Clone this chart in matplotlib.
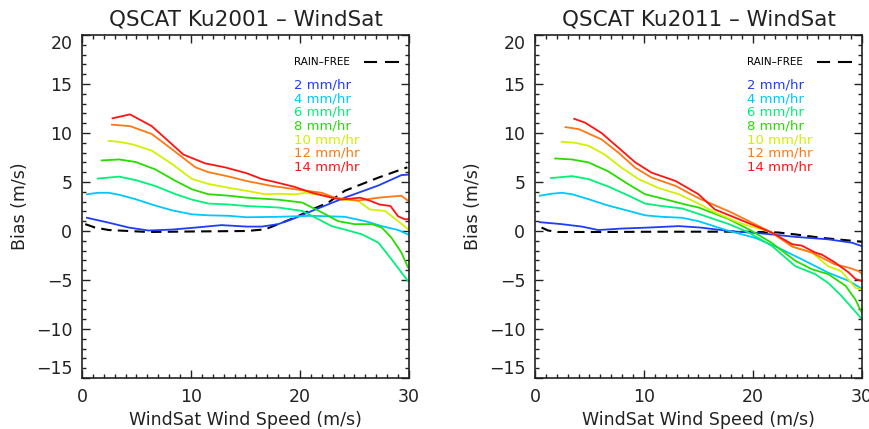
import matplotlib
matplotlib.use("Agg")
import matplotlib.pyplot as plt
from matplotlib.ticker import MultipleLocator

# ---------------- data ----------------
titles = ["QSCAT Ku2001 \u2013 WindSat", "QSCAT Ku2011 \u2013 WindSat"]
rain_labels = ["2 mm/hr", "4 mm/hr", "6 mm/hr", "8 mm/hr", "10 mm/hr", "12 mm/hr", "14 mm/hr"]
rain_colors = ["#1e3cff", "#00c8ff", "#00f078", "#28dc00", "#d2f000", "#ff7814", "#ff1414"]

# Left panel (Ku2001)
L_free_x = [0.3, 1.2, 2.45, 6.1, 10.0, 15.1, 16.8, 18.0, 19.5, 21.1, 22.6, 24.1, 27.2, 29.85]
L_free_y = [0.7, 0.35, 0.1, -0.1, -0.05, 0.0, 0.17, 0.7, 1.35, 2.2, 2.9, 4.1, 5.45, 6.5]

L_x = [
    [0.45, 2.45, 4.3, 6.1, 8.3, 10.4, 12.8, 15.1, 16.5, 18.0, 19.5, 21.1, 24.1, 27.2, 29.3, 29.9],
    [0.45, 1.5, 2.45, 3.4, 4.9, 6.7, 8.3, 10.1, 11.6, 13.5, 15.1, 18.0, 21.1, 24.1, 26.0, 27.5, 29.0, 29.9],
    [1.45, 3.4, 4.9, 6.7, 8.6, 10.1, 11.6, 13.5, 15.1, 18.0, 20.2, 21.7, 22.9, 24.1, 25.7, 27.2, 28.4, 29.9],
    [1.8, 3.4, 4.9, 6.7, 8.6, 10.1, 11.6, 13.5, 15.1, 18.0, 20.2, 22.0, 23.5, 25.0, 26.6, 27.5, 28.4, 29.3, 29.9],
    [2.45, 3.4, 4.6, 6.4, 8.3, 10.1, 11.6, 13.5, 15.1, 16.8, 18.0, 19.6, 20.5, 22.0, 23.8, 25.3, 26.4, 27.8, 29.0, 29.9],
    [2.75, 4.4, 6.4, 8.3, 10.4, 11.6, 13.5, 15.1, 17.4, 19.6, 22.0, 23.2, 25.3, 27.2, 29.3, 29.9],
    [2.8, 4.4, 6.4, 9.3, 11.3, 13.1, 15.1, 16.5, 17.7, 19.5, 21.1, 22.9, 23.8, 25.5, 26.4, 27.3, 28.3, 29.0, 29.6, 29.95],
]
L_y = [
    [1.35, 0.85, 0.35, 0.05, 0.15, 0.35, 0.6, 0.45, 0.45, 0.7, 1.3, 2.05, 3.4, 4.65, 5.7, 5.75],
    [3.75, 3.9, 3.9, 3.7, 3.25, 2.6, 2.1, 1.7, 1.6, 1.55, 1.4, 1.45, 1.55, 1.45, 1.0, 0.5, 0.1, -0.35],
    [5.35, 5.55, 5.2, 4.6, 3.75, 3.2, 2.8, 2.7, 2.55, 2.4, 2.05, 1.2, 0.5, 0.15, -0.35, -1.2, -2.9, -5.1],
    [7.2, 7.3, 7.05, 6.3, 5.1, 4.25, 3.75, 3.6, 3.4, 3.2, 2.9, 1.9, 1.0, 0.7, 0.7, 0.35, -0.7, -2.2, -3.7],
    [9.2, 9.1, 8.85, 8.2, 6.8, 5.3, 4.8, 4.4, 4.1, 3.75, 3.8, 3.75, 3.9, 3.65, 3.2, 3.1, 2.2, 2.05, 1.0, 0.2],
    [10.85, 10.7, 9.9, 8.3, 6.5, 6.0, 5.55, 5.1, 4.6, 4.25, 3.9, 3.4, 3.1, 3.4, 3.6, 3.1],
    [11.5, 11.9, 10.7, 7.8, 6.9, 6.5, 5.9, 5.3, 5.0, 4.5, 3.9, 3.4, 3.2, 3.4, 3.1, 2.7, 2.55, 1.5, 1.2, 1.2],
]

# Right panel (Ku2011)
R_free_x = [0.6, 1.2, 2.1, 6.0, 10.0, 14.7, 19.2, 22.3, 23.9, 26.3, 29.1, 30.0]
R_free_y = [0.35, 0.05, -0.1, -0.1, -0.08, -0.07, -0.07, -0.15, -0.35, -0.7, -1.0, -1.1]

R_x = [
    [0.45, 2.45, 4.3, 5.8, 7.95, 10.4, 13.2, 15.2, 17.8, 20.8, 23.9, 26.9, 29.1, 30.0],
    [0.45, 1.5, 2.45, 3.4, 4.9, 6.7, 8.6, 10.1, 11.6, 13.5, 15.0, 17.8, 20.2, 22.3, 24.5, 26.9, 28.8, 30.0],
    [1.47, 3.4, 4.9, 6.7, 8.6, 10.1, 11.6, 13.5, 15.0, 17.8, 19.6, 21.7, 23.9, 25.7, 26.9, 28.1, 30.0],
    [1.85, 3.4, 4.9, 6.7, 8.6, 10.1, 11.9, 13.8, 15.0, 17.8, 19.9, 21.7, 23.9, 25.4, 26.9, 28.5, 29.4, 30.0],
    [2.45, 3.7, 4.9, 6.4, 7.95, 9.5, 11.3, 13.2, 15.0, 16.5, 18.7, 21.7, 23.9, 25.4, 26.9, 28.1, 29.4, 30.0],
    [2.8, 4.0, 6.1, 7.65, 9.2, 10.7, 12.9, 15.0, 18.0, 21.7, 23.6, 25.4, 27.5, 28.8, 29.7, 30.0],
    [3.6, 4.6, 6.1, 7.65, 9.2, 10.7, 12.9, 15.0, 16.5, 21.7, 23.6, 24.5, 25.7, 26.3, 27.5, 28.8, 29.4, 30.0],
]
R_y = [
    [0.9, 0.7, 0.45, 0.1, 0.25, 0.35, 0.5, 0.35, 0.0, -0.25, -0.6, -0.85, -1.2, -1.55],
    [3.6, 3.8, 3.9, 3.75, 3.25, 2.6, 2.05, 1.6, 1.45, 1.35, 1.0, 0.0, -0.7, -1.7, -2.9, -4.25, -5.1, -5.9],
    [5.4, 5.6, 5.3, 4.55, 3.6, 2.8, 2.55, 2.3, 1.75, 0.7, -0.15, -1.5, -3.6, -4.4, -5.3, -6.6, -9.0],
    [7.4, 7.3, 7.0, 6.1, 4.75, 3.75, 3.25, 2.7, 2.4, 1.2, 0.0, -1.2, -3.05, -3.9, -4.4, -5.6, -7.0, -8.4],
    [9.1, 9.0, 8.7, 7.8, 6.45, 5.3, 4.4, 3.75, 2.8, 1.9, 0.85, -0.15, -1.7, -2.2, -3.6, -4.1, -5.8, -6.0],
    [10.6, 10.4, 9.35, 8.0, 6.45, 5.45, 4.6, 3.35, 1.9, -0.15, -1.6, -2.2, -3.4, -3.75, -4.1, -4.4],
    [11.45, 11.05, 10.0, 8.5, 7.0, 5.95, 5.1, 3.75, 2.2, -0.15, -1.35, -1.5, -2.2, -2.4, -3.2, -4.25, -4.9, -5.1],
]

x_ticks = [0, 10, 20, 30]
y_ticks = [-15, -10, -5, 0, 5, 10, 15, 20]

# ---------------- plot ----------------
plt.rcParams['font.family'] = ['DejaVu Sans']
fig = plt.figure(figsize=(8.7, 4.29), dpi=100)
positions = [[82/870, 51/429, 327/870, 343/429], [535/870, 51/429, 327/870, 343/429]]
panels = [(L_free_x, L_free_y, L_x, L_y), (R_free_x, R_free_y, R_x, R_y)]

for i, (pos, (fx, fy, xs, ys)) in enumerate(zip(positions, panels)):
    ax = fig.add_axes(pos)
    ax.plot(fx, fy, color='black', lw=1.5, linestyle=(0, (5, 3)))
    for x, y, c in zip(xs, ys, rain_colors):
        ax.plot(x, y, color=c, lw=1.3)
    ax.set_xlim(0, 30)
    ax.set_ylim(-15, 20)
    ax.set_xticks(x_ticks)
    ax.set_yticks(y_ticks)
    ax.xaxis.set_minor_locator(MultipleLocator(1))
    ax.yaxis.set_minor_locator(MultipleLocator(1))
    ax.tick_params(which='both', direction='in', top=True, right=True, width=1.0, color='#222222')
    ax.tick_params(which='major', length=6, labelsize=12.5, pad=7, labelcolor='#222222')
    ax.tick_params(which='minor', length=3)
    for sp in ax.spines.values():
        sp.set_linewidth(1.2)
        sp.set_color('#222222')
    ylabels = ax.get_yticklabels()
    ylabels[0].set_va('bottom')
    ylabels[-1].set_va('top')
    ax.set_xlabel('WindSat Wind Speed (m/s)', fontsize=12.5, labelpad=4, color='#222222')
    ax.set_ylabel('Bias (m/s)', fontsize=12.5, labelpad=5, color='#222222')
    ax.set_title(titles[i], fontsize=15.5, pad=7, color='#222222')

    # legend texts
    tx = 0.649
    ax.text(tx, 0.922, 'RAIN\u2013FREE', transform=ax.transAxes, fontsize=7.5,
            va='center', ha='left', color='black')
    ax.plot([0.864, 0.90], [0.922, 0.922], transform=ax.transAxes, color='black', lw=1.5)
    ax.plot([0.93, 0.965], [0.922, 0.922], transform=ax.transAxes, color='black', lw=1.5)
    for k, (lab, c) in enumerate(zip(rain_labels, rain_colors)):
        ax.text(tx, 0.854 - k * 0.0397, lab, transform=ax.transAxes, fontsize=9.5,
                va='center', ha='left', color=c)

fig.savefig('out.png', dpi=100)
